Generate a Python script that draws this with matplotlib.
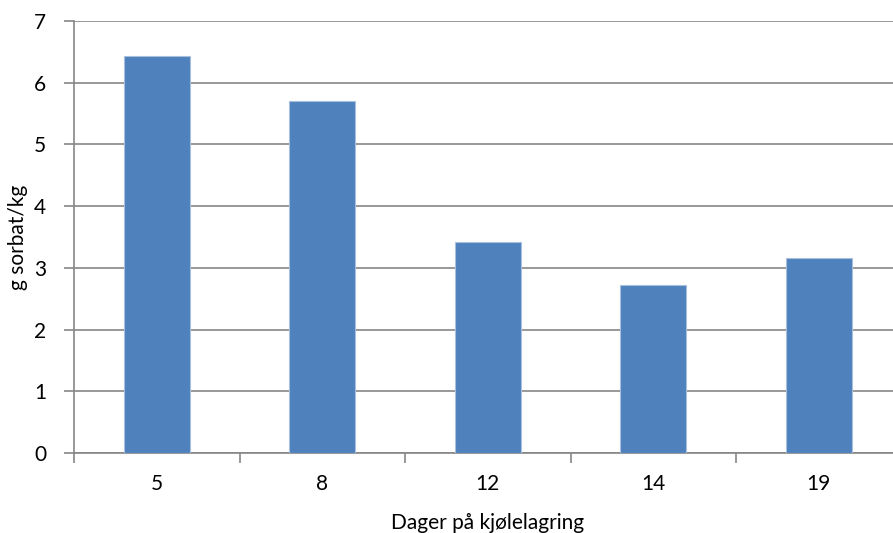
import numpy as np
import matplotlib.pyplot as plt
from matplotlib.ticker import FixedLocator

plt.rcParams['font.family'] = ['Lato', 'DejaVu Sans']

dager = ['5', '8', '12', '14', '19']
sorbat = [6.43, 5.70, 3.42, 2.72, 3.16]

fig = plt.figure(figsize=(8.93, 5.33), dpi=100)
ax = fig.add_axes([74 / 893, 80 / 533, 827.5 / 893, 432 / 533])

x = np.arange(len(dager))
ax.bar(x, sorbat, width=0.4, color='#4F81BD', edgecolor='#A7C0DE', linewidth=0.8, zorder=3)

ax.set_xlim(-0.5, len(dager) - 0.5)
ax.set_ylim(0, 7)
ax.set_yticks(range(0, 8))
ax.yaxis.grid(True, color='#868686', linewidth=1.2, zorder=0)

# etiketter midt i kategoriene, tickmerker mellom dem
ax.set_xticks(x)
ax.set_xticklabels(dager)
ax.xaxis.set_minor_locator(FixedLocator(np.arange(-0.5, len(dager), 1.0)))
ax.tick_params(axis='x', which='major', length=0, pad=15, labelsize=15)
ax.tick_params(axis='x', which='minor', length=7, width=1.2, color='#868686')
ax.tick_params(axis='y', length=7, width=1.2, color='#868686', pad=13, labelsize=15)

for side in ['top', 'right']:
    ax.spines[side].set_visible(False)
for side in ['left', 'bottom']:
    ax.spines[side].set_color('#868686')
    ax.spines[side].set_linewidth(1.2)

ax.set_xlabel('Dager på kjølelagring', fontsize=15, labelpad=14)
fig.text(18 / 893, 0.555, 'g sorbat/kg', fontsize=15, rotation=90,
         ha='center', va='center')

fig.savefig('out.png', dpi=100)
